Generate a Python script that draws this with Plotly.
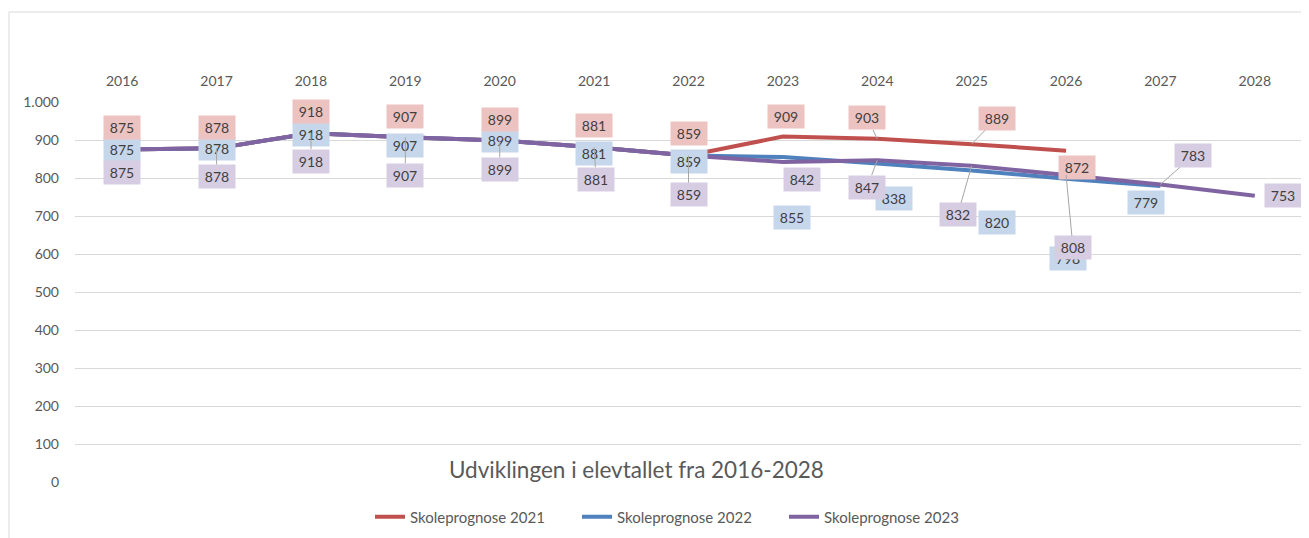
import plotly.graph_objects as go

years = [str(y) for y in range(2016, 2029)]
s2021 = [875, 878, 918, 907, 899, 881, 859, 909, 903, 889, 872]
s2022 = [875, 878, 918, 907, 899, 881, 859, 855, 838, 820, 798, 779]
s2023 = [875, 878, 918, 907, 899, 881, 859, 842, 847, 832, 808, 783, 753]
names = ["Skoleprognose 2021", "Skoleprognose 2022", "Skoleprognose 2023"]
title_text = "Udviklingen i elevtallet fra 2016-2028"

colors = ["#C0504D", "#4F81BD", "#8064A2"]
label_bg = ["#EDC3C2", "#C6D7EB", "#D7CDE3"]

# label offsets in pixels (dx, dy) relative to data point, and whether a leader line shows
off_2021 = [(0, -22), (0, -21), (0, -22), (0, -21), (0, -21), (0, -22), (0, -22),
            (3, -20), (-10, -21), (25, -26), (11, 17)]
lead_2021 = [0, 0, 0, 0, 0, 0, 0, 0, 1, 1, 0]
off_2022 = [(0, 0), (0, 0), (0, 1), (0, 8), (0, 0), (0, 6), (0, 6),
            (9, 60), (17, 35), (25, 52), (2, 80), (-14, 17)]
lead_2022 = [0] * 12
off_2023 = [(0, 23), (0, 28), (0, 28), (0, 38), (0, 29), (2, 32), (0, 39),
            (19, 17), (-10, 27), (-14, 49), (7, 73), (33, -29), (28, 0)]
lead_2023 = [0, 1, 1, 1, 1, 1, 1, 0, 1, 1, 1, 1, 0]

FONT = "Lato, Carlito, Calibri, sans-serif"
TXT = "#595959"

# page body has an 8px margin; figure is sized to fit the window
PAD = 8
W, H = 1309 - PAD, 538 - PAD
L, R, T, B = 75 - PAD, 7, 102 - PAD, 56
PW, PH = W - L - R, H - T - B


def px_x(p):
    return (p - PAD - L) / PW


def px_y(p):
    return (H - B - (p - PAD)) / PH


fig = go.Figure()
series = [s2021, s2022, s2023]
for vals, name, col in zip(series, names, colors):
    fig.add_trace(go.Scatter(
        x=years[:len(vals)], y=vals, mode="lines", name=name,
        line=dict(color=col, width=4), hoverinfo="skip"))

annotations = []
for vals, offs, leads, bg in [(s2022, off_2022, lead_2022, label_bg[1]),
                              (s2021, off_2021, lead_2021, label_bg[0]),
                              (s2023, off_2023, lead_2023, label_bg[2])]:
    for i, v in enumerate(vals):
        dx, dy = offs[i]
        annotations.append(dict(
            x=i, y=v, xref="x", yref="y", text=str(v),
            showarrow=True, ax=dx, ay=dy, axref="pixel", ayref="pixel",
            arrowhead=0, arrowwidth=1, standoff=0,
            arrowcolor="#A6A6A6" if leads[i] else "rgba(0,0,0,0)",
            bgcolor=bg, width=36, height=23, borderpad=0,
            font=dict(family=FONT, size=14, color="#404040")))

annotations.append(dict(
    x=px_x(636), y=px_y(469), xref="paper", yref="paper",
    text=title_text, showarrow=False, xanchor="center", yanchor="middle",
    font=dict(family=FONT, size=22.5, color=TXT)))

fig.update_layout(
    width=W, height=H,
    margin=dict(l=L, r=R, t=T, b=B, autoexpand=False),
    paper_bgcolor="white", plot_bgcolor="white",
    separators=",.",
    showlegend=True,
    legend=dict(orientation="h", x=px_x(370), y=px_y(517),
                xanchor="left", yanchor="middle",
                font=dict(family=FONT, size=15, color=TXT),
                entrywidth=162, entrywidthmode="pixels", tracegroupgap=0),
    annotations=annotations,
    shapes=[dict(type="rect", xref="paper", yref="paper",
                 x0=px_x(9), x1=px_x(1330),
                 y0=px_y(560), y1=px_y(12),
                 line=dict(color="#D9D9D9", width=1), layer="below")],
)
fig.update_xaxes(type="category", side="top", range=[-0.5, 12.5],
                 showgrid=False, showline=False, zeroline=False, ticks="",
                 tickfont=dict(family=FONT, size=14, color=TXT), ticklabelstandoff=12)
fig.update_yaxes(range=[0, 1000], dtick=100, tickformat=",d",
                 showgrid=True, gridcolor="#D9D9D9", gridwidth=1,
                 zeroline=False, showline=False, ticks="",
                 tickfont=dict(family=FONT, size=14, color=TXT), ticklabelstandoff=15)

fig.write_html("out.html")
